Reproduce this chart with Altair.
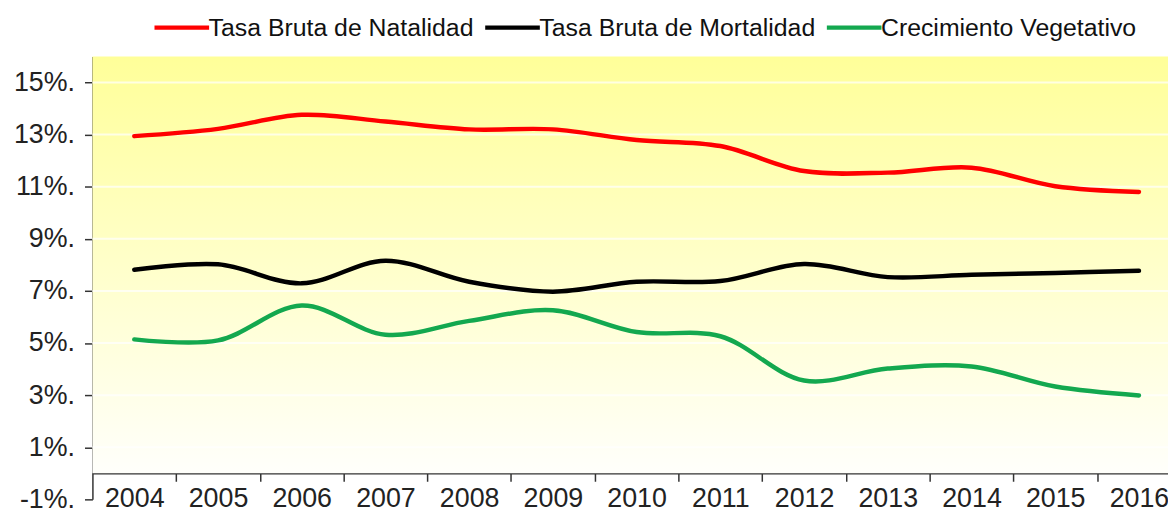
import altair as alt
import pandas as pd

# ---- data ----
years = list(range(2004, 2017))
natalidad = [12.94, 13.22, 13.76, 13.50, 13.20, 13.20, 12.79, 12.56, 11.60, 11.54, 11.73, 11.02, 10.80]
mortalidad = [7.81, 8.02, 7.29, 8.16, 7.35, 6.97, 7.35, 7.38, 8.03, 7.53, 7.62, 7.69, 7.77]
crecimiento = [5.14, 5.10, 6.44, 5.32, 5.85, 6.26, 5.42, 5.26, 3.56, 4.02, 4.10, 3.33, 2.99]
series_names = ["Tasa Bruta de Natalidad", "Tasa Bruta de Mortalidad", "Crecimiento Vegetativo"]
series_colors = ["#FF0000", "#000000", "#13A84F"]
y_ticks = [-1, 1, 3, 5, 7, 9, 11, 13, 15]
y_domain = [-1, 16]

FONT = "Liberation Sans"
STEP = 84.3                      # pixels per year
W = 1083                         # plot area from x=93 to the window edge
H = 446
x_domain = [2003.5, 2003.5 + W / STEP]
unit = H / (y_domain[1] - y_domain[0])

rows = []
for name, vals in zip(series_names, [natalidad, mortalidad, crecimiento]):
    for yr, v in zip(years, vals):
        rows.append({"year": yr, "value": v, "serie": name})
df = pd.DataFrame(rows)

x_scale = alt.Scale(domain=x_domain, nice=False, zero=False)
y_scale = alt.Scale(domain=y_domain, nice=False, zero=False)

bg = alt.Chart(pd.DataFrame({"a": [0]})).mark_rect(
    fill=alt.Gradient(
        gradient="linear",
        stops=[alt.GradientStop(color="#FFFF99", offset=0),
               alt.GradientStop(color="#FFFFFB", offset=1)],
        x1=0, x2=0, y1=0, y2=1,
    )
).encode(
    x=alt.datum(x_domain[0], scale=x_scale),
    x2=alt.datum(x_domain[1]),
    y=alt.datum(y_domain[1], scale=y_scale),
    y2=alt.datum(0),
)

grid = alt.Chart(pd.DataFrame({"t": [t for t in y_ticks if t > 0]})).mark_rule(
    color="white", strokeWidth=2, opacity=0.7
).encode(y=alt.Y("t:Q", scale=y_scale))

lines = alt.Chart(df).mark_line(
    strokeWidth=4.5, interpolate="catmull-rom", strokeCap="round"
).encode(
    x=alt.X(
        "year:Q", scale=x_scale, title=None,
        axis=alt.Axis(
            values=years, format="d", offset=-unit, tickSize=8,
            tickOffset=STEP / 2, labelOffset=-STEP / 2,
            labelPadding=4, labelFontSize=27, labelFont=FONT, labelColor="#222222",
            domainColor="#333333", tickColor="#333333", domainWidth=1.5, tickWidth=1.5,
            grid=False, labelFlush=False, labelOverlap=False,
        ),
    ),
    y=alt.Y(
        "value:Q", scale=y_scale, title=None,
        axis=alt.Axis(
            values=y_ticks, labelExpr="datum.value + '%.'", tickSize=8,
            labelPadding=10, labelFontSize=27, labelFont=FONT, labelColor="#222222",
            domainColor="#333333", tickColor="#333333", domainWidth=1.5, tickWidth=1.5,
            grid=False, labelFlush=False, labelOverlap=False,
        ),
    ),
    color=alt.Color(
        "serie:N",
        scale=alt.Scale(domain=series_names, range=series_colors),
        legend=alt.Legend(
            title=None, orient="none", direction="horizontal",
            legendX=60, legendY=-59,
            symbolType="stroke", symbolSize=3025, symbolStrokeWidth=4.5,
            labelFontSize=25, labelFont=FONT, labelColor="#111111",
            labelOffset={"expr": "-3"}, columnPadding=2,
            padding=0, labelLimit=400,
        ),
    ),
)

chart = alt.layer(bg, grid, lines).properties(
    width=W, height=H,
    autosize=alt.AutoSizeParams(type="none"),
    padding={"left": 85, "top": 47, "right": 0, "bottom": 14},
).configure_view(stroke=None)

chart.save("out.html", embed_options={"renderer": "svg", "actions": False})
